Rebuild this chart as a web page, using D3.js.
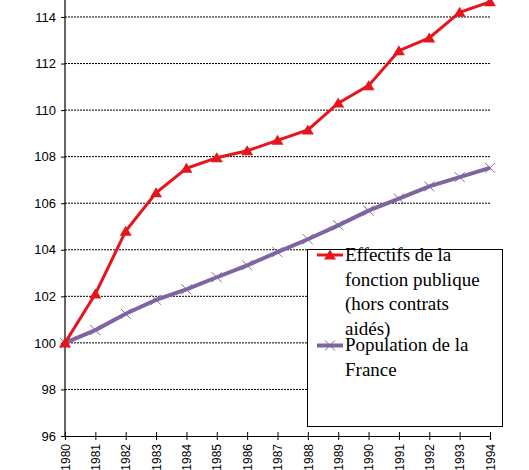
<!DOCTYPE html>
<html>
<head>
<meta charset="utf-8">
<script src="https://cdn.jsdelivr.net/npm/d3@7"></script>
<style>
  body { margin: 0; background: #fff; }
  .axis text { font-family: "Liberation Sans", Arial, sans-serif; fill: #000; }
  .legend text { font-family: "Liberation Serif", serif; font-size: 19px; fill: #000; }
</style>
</head>
<body>
<div id="viz"></div>
<script>
var years = [1980, 1981, 1982, 1983, 1984, 1985, 1986, 1987, 1988, 1989, 1990, 1991, 1992, 1993, 1994];
var fonctionPublique = [100, 102.1, 104.8, 106.45, 107.5, 107.95, 108.25, 108.7, 109.15, 110.3, 111.05, 112.55, 113.1, 114.2, 114.65];
var population = [100, 100.55, 101.25, 101.85, 102.3, 102.82, 103.33, 103.9, 104.45, 105.05, 105.68, 106.2, 106.72, 107.12, 107.52];
var yTicks = [96, 98, 100, 102, 104, 106, 108, 110, 112, 114];
var legendRed = ["Effectifs de la", "fonction publique", "(hors contrats", "aidés)"];
var legendPurple = ["Population de la", "France"];

var width = 529, height = 470;
var redColor = "#e8141c";
var purpleColor = "#7f64a2";

var svg = d3.select("#viz").append("svg")
  .attr("width", width)
  .attr("height", height);

var x = d3.scaleLinear().domain([1980, 1994]).range([65, 490]);
var y = d3.scaleLinear().domain([96, 115]).range([436, -6.3]);

// grid lines
svg.append("g")
  .selectAll("line")
  .data(yTicks.filter(function (d) { return d > 96; }))
  .enter()
  .append("line")
  .attr("x1", x(1980))
  .attr("x2", x(1994))
  .attr("y1", function (d) { return y(d); })
  .attr("y2", function (d) { return y(d); })
  .attr("stroke", "#000")
  .attr("stroke-width", 1)
  .attr("stroke-dasharray", "2,1");

// axes
var yAxis = d3.axisLeft(y).tickValues(yTicks).tickSize(4).tickPadding(5).tickFormat(d3.format("d"));
var gy = svg.append("g")
  .attr("class", "axis")
  .attr("transform", "translate(" + x(1980) + ",0)")
  .call(yAxis);
gy.select(".domain").remove();
gy.append("line")
  .attr("x1", 0).attr("x2", 0)
  .attr("y1", 0).attr("y2", y(96))
  .attr("stroke", "#000").attr("stroke-width", 1.2);
gy.selectAll("text").style("font-size", "13px");

var xAxis = d3.axisBottom(x).tickValues(years).tickSize(4).tickFormat(d3.format("d"));
var gx = svg.append("g")
  .attr("class", "axis")
  .attr("transform", "translate(0," + y(96) + ")")
  .call(xAxis);
gx.select(".domain").attr("stroke-width", 1.2);
gx.selectAll(".tick line").attr("y1", -4).attr("y2", 4);
gx.selectAll("text")
  .style("font-size", "12px")
  .attr("transform", "rotate(-90)")
  .attr("x", -8)
  .attr("y", 0)
  .attr("dy", "0.35em")
  .style("text-anchor", "end");

// lines
var line = d3.line()
  .x(function (d, i) { return x(years[i]); })
  .y(function (d) { return y(d); });

svg.append("path")
  .datum(population)
  .attr("fill", "none")
  .attr("stroke", purpleColor)
  .attr("stroke-width", 4)
  .attr("d", line);

svg.append("g")
  .selectAll("path")
  .data(population)
  .enter()
  .append("path")
  .attr("d", "M-5,-5L5,5M-5,5L5,-5")
  .attr("stroke", purpleColor)
  .attr("stroke-width", 1)
  .attr("transform", function (d, i) { return "translate(" + x(years[i]) + "," + y(d) + ")"; });

svg.append("path")
  .datum(fonctionPublique)
  .attr("fill", "none")
  .attr("stroke", redColor)
  .attr("stroke-width", 3)
  .attr("d", line);

svg.append("g")
  .selectAll("path")
  .data(fonctionPublique)
  .enter()
  .append("path")
  .attr("d", "M0,-5.5L6,4.5L-6,4.5Z")
  .attr("fill", redColor)
  .attr("transform", function (d, i) { return "translate(" + x(years[i]) + "," + y(d) + ")"; });

// legend
var legend = svg.append("g").attr("class", "legend");
legend.append("rect")
  .attr("x", 307.5).attr("y", 249.5)
  .attr("width", 195).attr("height", 177)
  .attr("fill", "#fff")
  .attr("stroke", "#000")
  .attr("stroke-width", 1);

legend.append("line")
  .attr("x1", 317).attr("x2", 343)
  .attr("y1", 255).attr("y2", 255)
  .attr("stroke", redColor).attr("stroke-width", 3);
legend.append("path")
  .attr("d", "M0,-5.5L6,4.5L-6,4.5Z")
  .attr("fill", redColor)
  .attr("transform", "translate(330,255)");

legend.append("line")
  .attr("x1", 317).attr("x2", 343)
  .attr("y1", 345.5).attr("y2", 345.5)
  .attr("stroke", purpleColor).attr("stroke-width", 4);
legend.append("path")
  .attr("d", "M-5,-5L5,5M-5,5L5,-5")
  .attr("stroke", purpleColor)
  .attr("stroke-width", 1)
  .attr("transform", "translate(330,345.5)");

legend.selectAll(".red-label")
  .data(legendRed)
  .enter()
  .append("text")
  .attr("x", 345)
  .attr("y", function (d, i) { return 261 + i * 24.5; })
  .text(function (d) { return d; });

legend.selectAll(".purple-label")
  .data(legendPurple)
  .enter()
  .append("text")
  .attr("x", 345)
  .attr("y", function (d, i) { return 351 + i * 24.5; })
  .text(function (d) { return d; });
</script>
</body>
</html>
